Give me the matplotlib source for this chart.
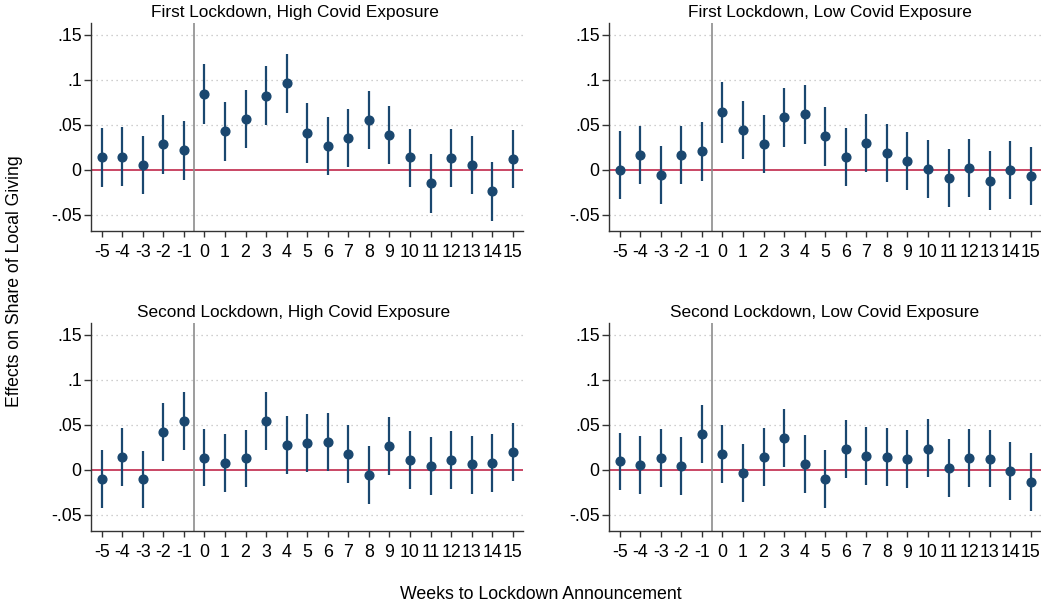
import matplotlib
matplotlib.use('Agg')
import matplotlib.pyplot as plt
import numpy as np

plt.rcParams['font.family'] = ['Liberation Sans', 'DejaVu Sans']

weeks = list(range(-5, 16))
titles = ['First Lockdown, High Covid Exposure', 'First Lockdown, Low Covid Exposure',
          'Second Lockdown, High Covid Exposure', 'Second Lockdown, Low Covid Exposure']

# point estimates, upper and lower CI for each panel
est_1h = [0.014, 0.0144, 0.005, 0.028, 0.0215, 0.0844, 0.0426, 0.0563, 0.0822, 0.0959, 0.041,
          0.0267, 0.035, 0.0556, 0.0389, 0.0137, -0.0148, 0.013, 0.0052, -0.024, 0.0122]
hi_1h = [0.0467, 0.047, 0.0374, 0.0604, 0.054, 0.1174, 0.0752, 0.0889, 0.1148, 0.1285, 0.0741,
         0.0589, 0.0674, 0.0878, 0.0707, 0.0456, 0.017, 0.0448, 0.0374, 0.0081, 0.0437]
lo_1h = [-0.0189, -0.018, -0.0274, -0.0044, -0.0115, 0.0507, 0.010, 0.0237, 0.0496, 0.0633, 0.0078,
         -0.0059, 0.003, 0.023, 0.0063, -0.0189, -0.0478, -0.0196, -0.027, -0.0567, -0.0204]

est_1l = [0.0, 0.0163, -0.0059, 0.0163, 0.0207, 0.0637, 0.0437, 0.0289, 0.0581, 0.0615, 0.0374,
          0.0137, 0.0296, 0.0185, 0.0093, 0.0004, -0.0089, 0.0019, -0.0122, -0.0004, -0.007]
hi_1l = [0.0433, 0.0489, 0.0267, 0.0489, 0.053, 0.0974, 0.0763, 0.0607, 0.0907, 0.0944, 0.07,
         0.0459, 0.0619, 0.0504, 0.0419, 0.033, 0.0233, 0.0344, 0.0204, 0.0322, 0.0252]
lo_1l = [-0.033, -0.0163, -0.0378, -0.0163, -0.0122, 0.0296, 0.0115, -0.0037, 0.0252, 0.0289, 0.0044,
         -0.0185, -0.003, -0.0141, -0.023, -0.0315, -0.0411, -0.0304, -0.0444, -0.0326, -0.0393]

est_2h = [-0.0107, 0.014, -0.011, 0.0413, 0.0542, 0.0133, 0.0074, 0.0125, 0.0538, 0.0269, 0.0295,
          0.0302, 0.0177, -0.0059, 0.0258, 0.0111, 0.0037, 0.0107, 0.0059, 0.0077, 0.0199]
hi_2h = [0.0217, 0.0457, 0.0206, 0.0737, 0.0866, 0.0453, 0.0394, 0.0442, 0.0859, 0.059, 0.0615,
         0.0626, 0.0494, 0.0262, 0.0582, 0.0427, 0.0357, 0.0427, 0.0376, 0.0398, 0.0516]
lo_2h = [-0.0427, -0.0184, -0.0431, 0.0092, 0.0221, -0.0188, -0.025, -0.0199, 0.0214, -0.0055, -0.003,
         -0.0018, -0.0151, -0.038, -0.0063, -0.0214, -0.0284, -0.0217, -0.0269, -0.0247, -0.0129]

est_2l = [0.0092, 0.0052, 0.0125, 0.0044, 0.0394, 0.0177, -0.0037, 0.0136, 0.0346, 0.0063, -0.0103,
          0.0232, 0.0155, 0.014, 0.0118, 0.0232, 0.0015, 0.0129, 0.0122, -0.0015, -0.014]
hi_2l = [0.0409, 0.0372, 0.0446, 0.0365, 0.0715, 0.0494, 0.0284, 0.0457, 0.0674, 0.0383, 0.0221,
         0.0553, 0.0475, 0.0464, 0.0438, 0.0556, 0.0335, 0.045, 0.0442, 0.031, 0.0184]
lo_2l = [-0.0228, -0.0273, -0.0192, -0.028, 0.007, -0.0147, -0.0357, -0.0188, 0.0026, -0.0262, -0.0424,
         -0.0092, -0.017, -0.0184, -0.0203, -0.0088, -0.031, -0.0195, -0.0199, -0.0335, -0.0464]

panels = [(est_1h, lo_1h, hi_1h), (est_1l, lo_1l, hi_1l),
          (est_2h, lo_2h, hi_2h), (est_2l, lo_2l, hi_2l)]

yticks = [-0.05, 0, 0.05, 0.1, 0.15]
ytick_labels = ['-.05', '0', '.05', '.1', '.15']

navy = '#1a476f'
W, H = 1041, 602
fig = plt.figure(figsize=(W / 100, H / 100), dpi=100)
positions = [[0.0878, 0.6163, 0.4146, 0.345], [0.5854, 0.6163, 0.4146, 0.345],
             [0.0878, 0.1184, 0.4146, 0.3446], [0.5854, 0.1184, 0.4146, 0.3446]]
# title centre x and baseline y (pixels)
title_pos = [(295, 17.5), (830, 17.5), (294, 316.5), (825, 316.5)]

for pos, title, tp, (est, lo, hi) in zip(positions, titles, title_pos, panels):
    ax = fig.add_axes(pos)
    x = np.array(weeks)
    ax.vlines(x, lo, hi, color=navy, lw=1.6, zorder=3)
    ax.plot(x, est, 'o', color=navy, ms=6.3, zorder=4)
    ax.axhline(0, color='#c0284a', lw=1.2, zorder=2)
    ax.axvline(-0.5, color='#8c8c8c', lw=1.2, zorder=2)
    for yt in yticks:
        if yt != 0:
            ax.axhline(yt, color='#bfbfbf', lw=0.9, ls=(0, (1, 3)), zorder=1)
    ax.set_xlim(-5.5, 15.5)
    ax.set_ylim(-0.068, 0.1625)
    ax.set_xticks(weeks)
    ax.set_xticklabels([str(w) for w in weeks], fontsize=12.8)
    ax.set_yticks(yticks)
    ax.set_yticklabels(ytick_labels, fontsize=12.8)
    ax.spines['top'].set_visible(False)
    ax.spines['right'].set_visible(False)
    for s in ['left', 'bottom']:
        ax.spines[s].set_color('#333333')
        ax.spines[s].set_linewidth(1.0)
    ax.tick_params(axis='x', length=4.6, color='#333333', width=1.0, pad=5)
    ax.tick_params(axis='y', length=5, color='#333333', width=1.0, pad=2)
    fig.text(tp[0] / W, 1 - tp[1] / H, title, ha='center', va='baseline', fontsize=12.4)

fig.text(540.6 / W, 1 - 599.3 / H, 'Weeks to Lockdown Announcement', ha='center', va='baseline',
         fontsize=12.8)
fig.text(0.006, 1 - 281 / H, 'Effects on Share of Local Giving', ha='left', va='center',
         rotation=90, fontsize=12.7)

plt.savefig('out.png', dpi=100)
